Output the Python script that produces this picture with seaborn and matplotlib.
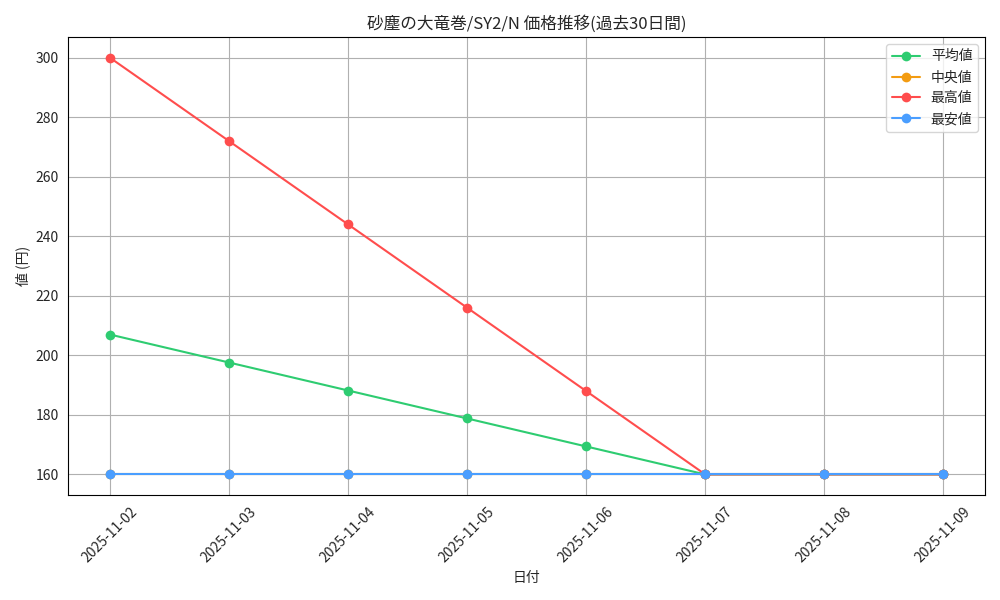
import matplotlib
matplotlib.use("Agg")
import matplotlib.pyplot as plt
import seaborn as sns
import pandas as pd

dates = ["2025-11-02", "2025-11-03", "2025-11-04", "2025-11-05",
         "2025-11-06", "2025-11-07", "2025-11-08", "2025-11-09"]
avg = [207, 197.6, 188.2, 178.8, 169.4, 160, 160, 160]
median = [160, 160, 160, 160, 160, 160, 160, 160]
high = [300, 272, 244, 216, 188, 160, 160, 160]
low = [160, 160, 160, 160, 160, 160, 160, 160]

sns.set_style("white")
plt.rcParams['font.family'] = ['Noto Sans CJK JP', 'DejaVu Sans']

df = pd.DataFrame({"date": dates, "平均値": avg, "中央値": median, "最高値": high, "最安値": low})
colors = {"平均値": "#2ecc71", "中央値": "#f39c12", "最高値": "#ff4d4d", "最安値": "#4a9eff"}

fig, ax = plt.subplots(figsize=(10, 6), dpi=100)
for col, c in colors.items():
    sns.lineplot(data=df, x="date", y=col, marker="o", color=c, label=col,
                 markersize=7, markeredgewidth=0, linewidth=1.5, ax=ax)

ax.set_title("砂塵の大竜巻/SY2/N 価格推移(過去30日間)")
ax.set_xlabel("日付")
ax.set_ylabel("値 (円)")
ax.grid(True, color="#b0b0b0")
for s in ax.spines.values():
    s.set_color("black")
plt.xticks(rotation=45)
ax.legend(loc="upper right")
plt.tight_layout()
plt.savefig("out.png")
